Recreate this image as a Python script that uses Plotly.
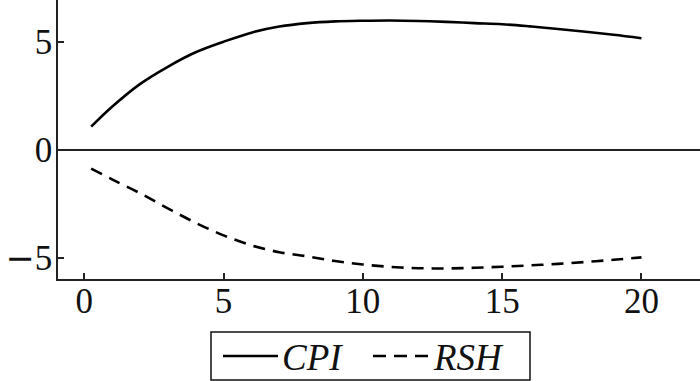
import plotly.graph_objects as go

# Impulse response horizon (periods)
periods = [0.25, 1, 2, 3, 4, 5, 6, 7, 8, 9, 10, 11, 12, 13, 14, 15, 16, 17, 18, 19, 20]
cpi = [1.08, 2.0, 3.05, 3.85, 4.52, 5.01, 5.43, 5.71, 5.87, 5.95, 5.98, 5.99, 5.97, 5.93,
       5.87, 5.82, 5.72, 5.60, 5.47, 5.33, 5.17]
rsh = [-0.86, -1.36, -2.0, -2.7, -3.37, -3.95, -4.41, -4.73, -4.92, -5.14, -5.30, -5.41,
       -5.47, -5.48, -5.45, -5.40, -5.34, -5.27, -5.18, -5.08, -4.97]
x_ticks = [0, 5, 10, 15, 20]
y_ticks = [-5, 0, 5]
y_tick_text = ['<span style="font-family:DejaVu Serif">\u2212</span>5', "0", "5"]
series_names = ["CPI", "RSH"]

FONT = "Liberation Serif"
W, H = 700, 381
ML, MR, MT, MB = 58, 0, 0, 102
PW, PH = W - ML - MR, H - MT - MB


def px(x):  # pixel -> paper x
    return (x - ML) / PW


def py(y):  # pixel -> paper y
    return (H - MB - y) / PH


dash_style = "12px,8px"

fig = go.Figure()
fig.add_trace(go.Scatter(x=periods, y=cpi, mode="lines", name=series_names[0],
                         line=dict(color="black", width=2.6, shape="spline")))
fig.add_trace(go.Scatter(x=periods, y=rsh, mode="lines", name=series_names[1],
                         line=dict(color="black", width=2.6, dash=dash_style, shape="spline")))

# Legend drawn as a framed box beneath the axes
shapes = [
    dict(type="rect", xref="paper", yref="paper", x0=px(211), x1=px(530), y0=py(380), y1=py(332),
         line=dict(color="#111", width=1.5), fillcolor="white"),
    dict(type="line", xref="paper", yref="paper", x0=px(223), x1=px(278), y0=py(356), y1=py(356),
         line=dict(color="black", width=2.6)),
    dict(type="line", xref="paper", yref="paper", x0=px(373), x1=px(430), y0=py(356), y1=py(356),
         line=dict(color="black", width=2.6, dash="13px,8px")),
]
annotations = [
    dict(xref="paper", yref="paper", x=px(280), y=py(357), xanchor="left", yanchor="middle",
         text="<i>" + series_names[0] + "</i>", showarrow=False,
         font=dict(family=FONT, size=37, color="#111")),
    dict(xref="paper", yref="paper", x=px(431), y=py(357), xanchor="left", yanchor="middle",
         text="<i>" + series_names[1] + "</i>", showarrow=False,
         font=dict(family=FONT, size=37, color="#111")),
]

fig.update_layout(
    width=W, height=H,
    margin=dict(l=ML, r=MR, t=MT, b=MB, autoexpand=False),
    paper_bgcolor="white", plot_bgcolor="white",
    font=dict(family=FONT, size=35, color="#111"),
    showlegend=False,
    shapes=shapes,
    annotations=annotations,
    xaxis=dict(range=[-0.94, 22.1], tickmode="array", tickvals=x_ticks,
               ticks="inside", ticklen=6, tickwidth=1.5, tickcolor="#222",
               showline=True, linecolor="#222", linewidth=1.6, showgrid=False,
               zeroline=False, automargin=False, ticklabelstandoff=-10,
               tickfont=dict(family=FONT, size=35)),
    yaxis=dict(range=[-5.97, 6.94], tickmode="array", tickvals=y_ticks, ticktext=y_tick_text,
               ticks="inside", ticklen=6, tickwidth=1.5, tickcolor="#222",
               showline=True, linecolor="#222", linewidth=1.6, showgrid=False,
               zeroline=True, zerolinecolor="#222", zerolinewidth=1.6,
               automargin=False, ticklabelstandoff=-3,
               tickfont=dict(family=FONT, size=35)),
)

fig.write_html("out.html", config={"displayModeBar": False},
               post_script="document.body.style.margin='0';")
